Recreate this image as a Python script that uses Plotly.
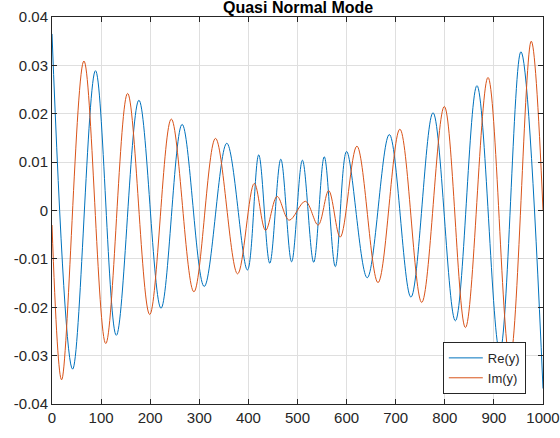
import plotly.graph_objects as go

# Extrema of each curve
re_x = [0, 42, 88.6, 131, 177, 222, 265, 310, 356, 398, 421, 443.5, 466, 488, 510, 533,
        554.5, 577, 600, 642, 687, 731, 776, 821.5, 865.5, 912, 955, 1000]
re_y = [0.0365, -0.0328, 0.0289, -0.0258, 0.0228, -0.0202, 0.0178, -0.0157, 0.0139, -0.0123,
        0.0115, -0.0109, 0.0106, -0.0106, 0.0104, -0.0107, 0.0111, -0.0116, 0.0122, -0.0139,
        0.0157, -0.0179, 0.0202, -0.0228, 0.0258, -0.0292, 0.0328, -0.0368]

im_x = [0, 19.6, 65, 109.5, 154, 199, 243, 289, 333, 378, 412, 435, 458.5, 483, 516, 542,
        563.5, 587, 621, 664, 708.5, 753, 799, 842, 888, 932.5, 976, 1000]
im_y = [-0.003, -0.0350, 0.0309, -0.0275, 0.0242, -0.0215, 0.0189, -0.0168, 0.0149, -0.0131,
        0.0056, -0.0041, 0.0029, -0.0020, 0.0019, -0.0030, 0.0041, -0.0055, 0.0133, -0.0149,
        0.0168, -0.0190, 0.0215, -0.0242, 0.0275, -0.0308, 0.0350, 0.0]

x_ticks = [0, 100, 200, 300, 400, 500, 600, 700, 800, 900, 1000]
y_ticks = [-0.04, -0.03, -0.02, -0.01, 0, 0.01, 0.02, 0.03, 0.04]
y_tick_labels = ["-0.04", "-0.03", "-0.02", "-0.01", "0", "0.01", "0.02", "0.03", "0.04"]

AX = "#262626"
GRID = "#dfdfdf"
FONT = "Liberation Sans, Arial, sans-serif"

fig = go.Figure()
fig.add_trace(go.Scatter(x=re_x, y=re_y, mode="lines", name="Re(y)",
                         line=dict(color="#0072BD", width=1, shape="spline", smoothing=1.0)))
fig.add_trace(go.Scatter(x=im_x, y=im_y, mode="lines", name="Im(y)",
                         line=dict(color="#D95319", width=1, shape="spline", smoothing=1.0)))

axis_common = dict(showline=True, linecolor=AX, linewidth=1, mirror="ticks",
                   ticks="inside", ticklen=5, tickcolor=AX, tickwidth=1,
                   showgrid=True, gridcolor=GRID, gridwidth=1, zeroline=False,
                   automargin=False, ticklabeloverflow="allow",
                   tickfont=dict(family=FONT, size=15, color=AX))

fig.update_xaxes(range=[0, 1000], tickvals=x_ticks, ticktext=[str(v) for v in x_ticks],
                 ticklabelstandoff=0, **axis_common)
fig.update_yaxes(range=[-0.04, 0.04], tickvals=y_ticks, ticktext=y_tick_labels,
                 **axis_common)

fig.add_annotation(text="<b>Quasi Normal Mode</b>", xref="paper", yref="paper",
                   x=0.5, y=1, yanchor="bottom", yshift=-1, showarrow=False,
                   font=dict(family=FONT, size=16, color="#000000"))

fig.update_layout(
    template="none",
    width=560, height=438,
    margin=dict(l=52, r=17, t=17, b=34, pad=0),
    paper_bgcolor="white", plot_bgcolor="white",
    showlegend=True,
    legend=dict(x=0.965, y=0.026, xanchor="right", yanchor="bottom",
                bgcolor="white", bordercolor=AX, borderwidth=1,
                font=dict(family=FONT, size=13, color=AX),
                itemwidth=34, tracegroupgap=0),
)

fig.write_html("out.html", config={"displayModeBar": False},
               post_script="document.body.style.margin='0';document.body.style.overflow='hidden';")
